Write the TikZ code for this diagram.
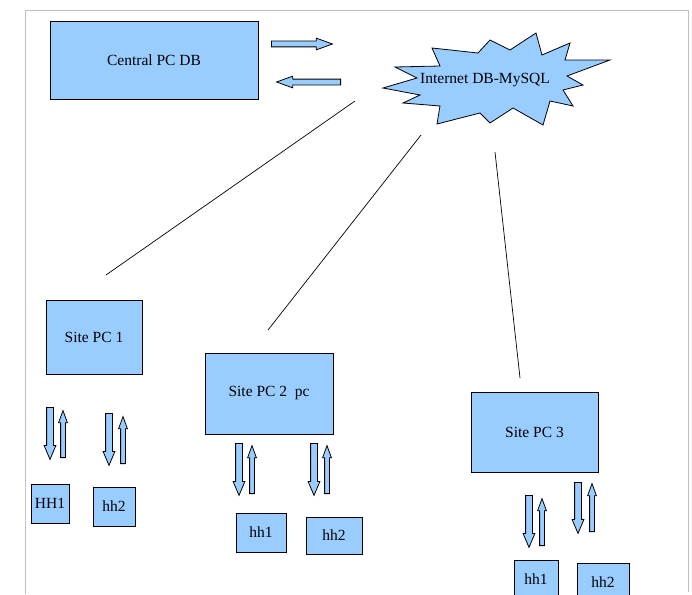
\documentclass[tikz,border=0pt]{standalone}
\usepackage{fontspec}
\setmainfont{Liberation Serif}
\usepackage{tikz}
\usetikzlibrary{shapes.arrows}
\definecolor{boxblue}{HTML}{99CCFF}
\definecolor{pagegray}{HTML}{C0C0C0}

\begin{document}
\begin{tikzpicture}[x=1pt, y=-1pt,
    pcbox/.style={draw, line width=1pt, fill=boxblue, inner sep=0pt,
      font=\fontsize{15.5}{18}\selectfont},
    hhdown/.style={single arrow, draw, line width=0.8pt, fill=boxblue,
      inner xsep=0pt, inner ysep=3pt, single arrow head extend=2.5pt,
      single arrow tip angle=46, rotate=-90, anchor=tail},
    hhup/.style={single arrow, draw, line width=0.8pt, fill=boxblue,
      inner xsep=0pt, inner ysep=2pt, single arrow head extend=2pt,
      single arrow tip angle=40, rotate=90, anchor=tail},
    syncarrow/.style={single arrow, draw, line width=0.8pt, fill=boxblue,
      inner xsep=0pt, inner ysep=2.5pt, single arrow head extend=3pt,
      single arrow tip angle=40, anchor=tail}]
    \useasboundingbox (0,0) rectangle (692,594);
    % page frame
    \draw[pagegray, line width=1pt] (25,594) -- (25,11) -- (688,11) -- (688,592);

    % central pc and internet db
    \node[pcbox, minimum width=208, minimum height=77] (central) at (154,60.5) {Central PC DB};
    \node[syncarrow, minimum height=61] (toinet) at (271,44) {};
    \node[syncarrow, minimum height=64, rotate=180] (frominet) at (341,82) {};
    \draw[line width=0.8pt, fill=boxblue, yshift=-3pt] (395,64) -- (440,63) -- (432,45) -- (478,50)
      -- (490,37) -- (510,47) -- (536,30) -- (542,52) -- (570,40) -- (565,57)
      -- (610,57) -- (567,73) -- (583,82) -- (563,87) -- (573,103) -- (550,98)
      -- (543,122) -- (513,105) -- (490,120) -- (480,110) -- (437,121) -- (440,103)
      -- (403,100) -- (420,92) -- (383,85) -- (417,75) -- cycle;
    \node[font=\fontsize{15.5}{18}\selectfont] (inet) at (485,80) {Internet DB-MySQL};

    % links to the sites
    \coordinate (link1a) at (355,101);
    \coordinate (link1b) at (106,275);
    \coordinate (link2a) at (421,135);
    \coordinate (link2b) at (268,330);
    \coordinate (link3a) at (495,152);
    \coordinate (link3b) at (520,378);
    \draw[line width=0.7pt] (link1a) -- (link1b);
    \draw[line width=0.7pt] (link2a) -- (link2b);
    \draw[line width=0.7pt] (link3a) -- (link3b);

    % site 1
    \node[pcbox, minimum width=96, minimum height=74] (site1) at (94,337) {Site PC 1};
    \node[hhdown, minimum height=52] (s1dn1) at (50,407) {};
    \node[hhup, minimum height=47] (s1up1) at (63,458) {};
    \node[hhdown, minimum height=52] (s1dn2) at (109,413) {};
    \node[hhup, minimum height=47] (s1up2) at (123,464) {};
    \node[pcbox, minimum width=38, minimum height=39] (s1hh1) at (50,503.5) {HH1};
    \node[pcbox, minimum width=42, minimum height=39] (s1hh2) at (114,506.5) {hh2};

    % site 2
    \node[pcbox, minimum width=128, minimum height=81] (site2) at (269,393.5) {Site PC 2\ \ pc};
    \node[hhdown, minimum height=52] (s2dn1) at (239,443) {};
    \node[hhup, minimum height=48] (s2up1) at (252,494) {};
    \node[hhdown, minimum height=52] (s2dn2) at (314,443) {};
    \node[hhup, minimum height=48] (s2up2) at (327,494) {};
    \node[pcbox, minimum width=50, minimum height=39] (s2hh1) at (261,532.5) {hh1};
    \node[pcbox, minimum width=56, minimum height=37] (s2hh2) at (334,535.5) {hh2};

    % site 3
    \node[pcbox, minimum width=127, minimum height=80] (site3) at (534.5,432) {Site PC 3};
    \node[hhdown, minimum height=52] (s3dn1) at (529,495) {};
    \node[hhup, minimum height=47] (s3up1) at (542,546) {};
    \node[hhdown, minimum height=51] (s3dn2) at (578,482) {};
    \node[hhup, minimum height=48] (s3up2) at (592,532) {};
    \node[pcbox, minimum width=44, minimum height=38] (s3hh1) at (536,579) {hh1};
    \node[pcbox, minimum width=52, minimum height=38] (s3hh2) at (603,582) {hh2};
\end{tikzpicture}
\end{document}
